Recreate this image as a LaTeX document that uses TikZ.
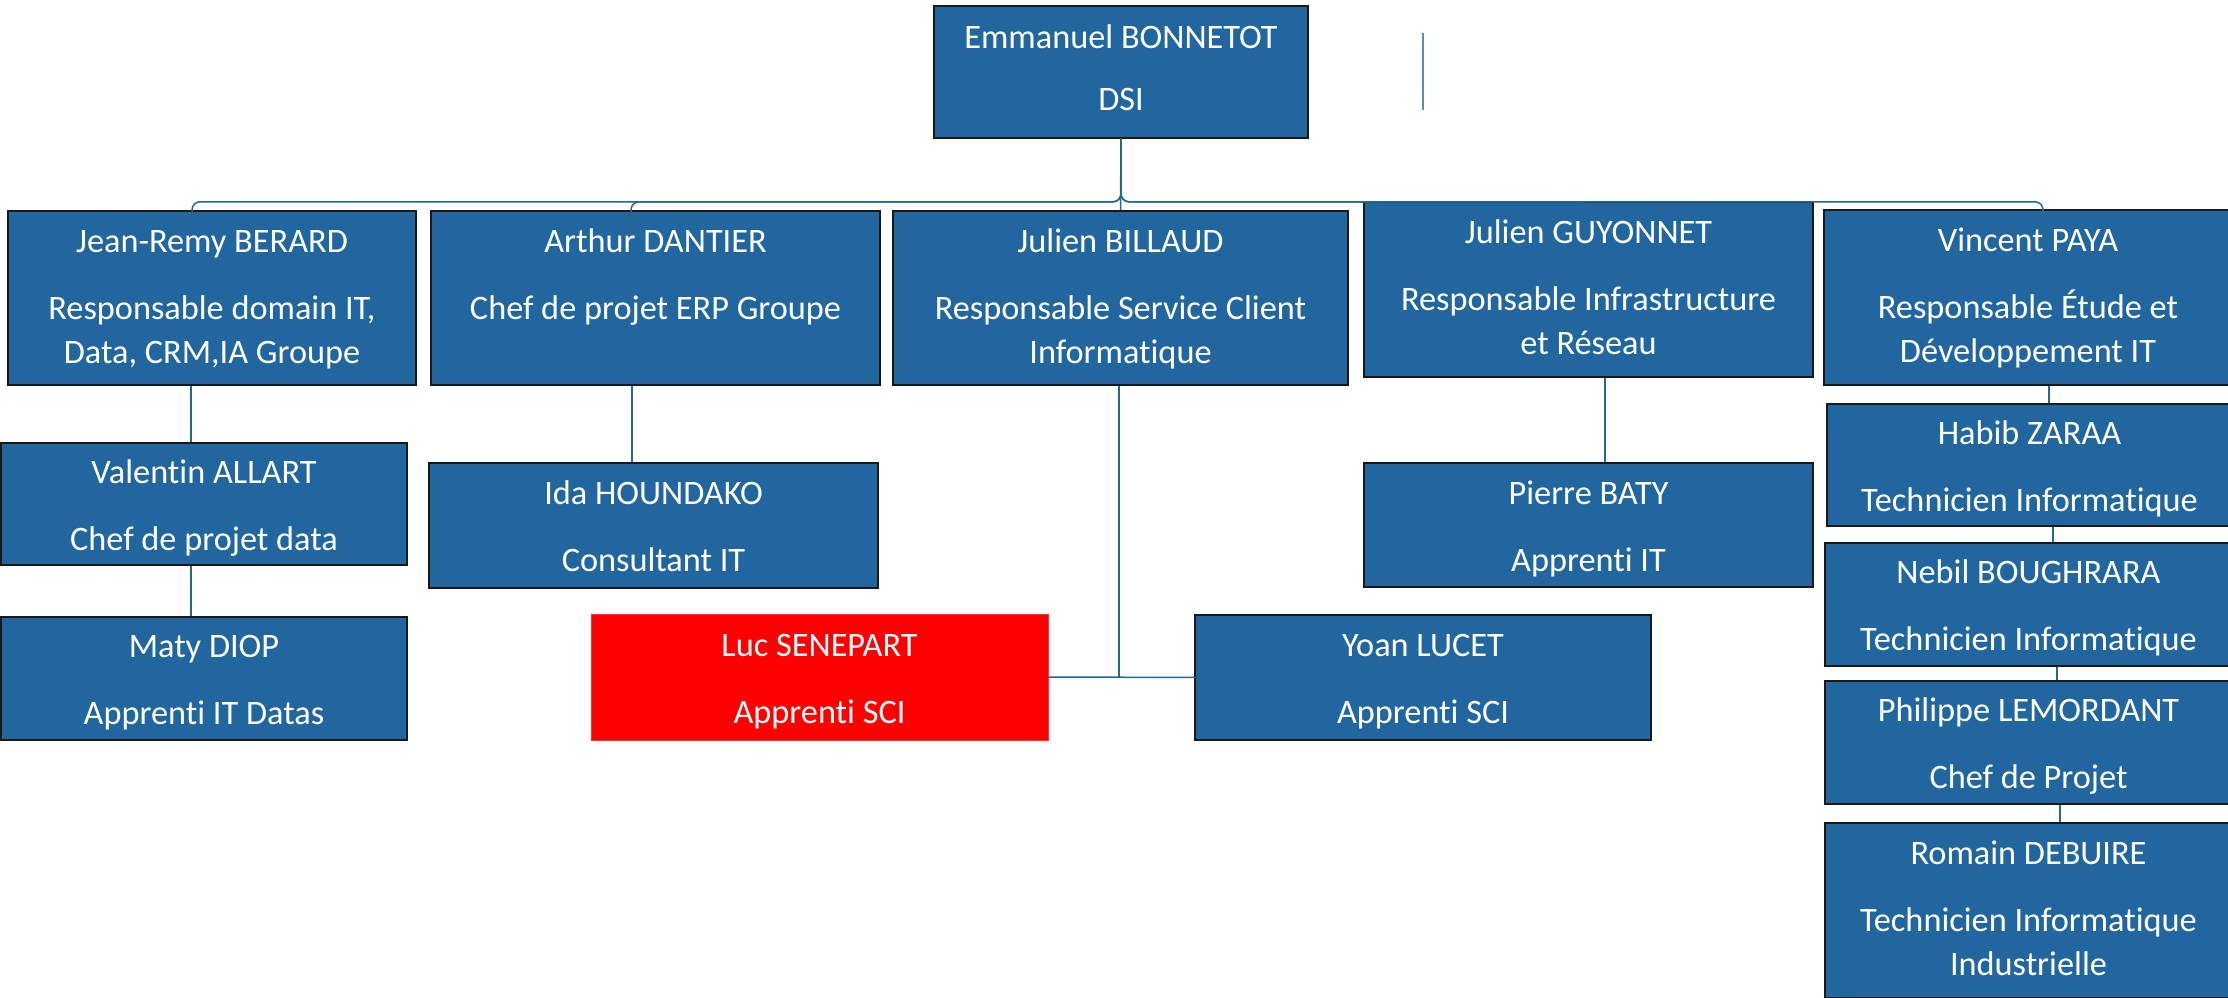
\documentclass[tikz,border=0pt]{standalone}
\usepackage{fontspec}
\setmainfont{Carlito}[Ligatures=NoCommon]
\usetikzlibrary{calc}
\definecolor{boxblue}{RGB}{33,102,159}
\definecolor{conncol}{RGB}{36,105,140}
\definecolor{edgecol}{RGB}{25,25,25}
\newcommand{\ostrut}{\rule[-10pt]{0pt}{35pt}}% top box
\newcommand{\tstrut}{\rule[-6pt]{0pt}{37pt}}% two-line boxes
\newcommand{\hstrut}{\rule[-8pt]{0pt}{35pt}}% three-line boxes
\begin{document}
\begin{tikzpicture}[x=1pt,y=-1pt,
  orgbox/.style={draw=edgecol, line width=1.6pt, fill=boxblue, text=white, align=center,
    inner sep=0pt, font=\fontsize{34.3}{44}\selectfont},
  redbox/.style={orgbox, fill=red, draw=red!80!white, line width=1pt},
  conn/.style={draw=conncol, line width=1.5pt},
  stray/.style={draw=conncol!75!white, line width=1.5pt}]
\useasboundingbox (0,0) rectangle (2228,997);
\clip (0,0) rectangle (2228,997);
% boxes
\node[orgbox, minimum width=374pt, minimum height=132pt] (dsi) at (1121,72) {\ostrut Emmanuel BONNETOT\\[18pt] DSI\ostrut};
\node[orgbox, minimum width=408pt, minimum height=174pt] (jr) at (212,298) {\hstrut Jean-Remy BERARD\\[23pt] Responsable domain IT,\\ Data, CRM,IA Groupe\hstrut};
\node[orgbox, minimum width=449pt, minimum height=174pt] (ad) at (655.5,298) {\hstrut Arthur DANTIER\\[23pt] Chef de projet ERP Groupe\\ \hstrut};
\node[orgbox, minimum width=455pt, minimum height=174pt] (jb) at (1120.5,298) {\hstrut Julien BILLAUD\\[23pt] Responsable Service Client\\ Informatique\hstrut};
\node[orgbox, minimum width=449pt, minimum height=175pt] (jg) at (1588.5,289.5) {\hstrut Julien GUYONNET\\[23pt] Responsable Infrastructure\\ et Réseau\hstrut};
\node[orgbox, minimum width=408pt, minimum height=175pt] (vp) at (2028,297.5) {\hstrut Vincent PAYA\\[23pt] Responsable Étude et\\ Développement IT\hstrut};
\node[orgbox, minimum width=406pt, minimum height=122pt] (va) at (204,504) {\tstrut Valentin ALLART\\[23pt] Chef de projet data\tstrut};
\node[orgbox, minimum width=406pt, minimum height=123pt] (ma) at (204,678.5) {\tstrut Maty DIOP\\[23pt] Apprenti IT Datas\tstrut};
\node[orgbox, minimum width=449pt, minimum height=125pt] (ih) at (653.5,525.5) {\tstrut Ida HOUNDAKO\\[23pt] Consultant IT\tstrut};
\node[redbox, minimum width=457pt, minimum height=126pt] (ls) at (819.5,677) {\tstrut Luc SENEPART\\[23pt] Apprenti SCI\tstrut};
\node[orgbox, minimum width=456pt, minimum height=125pt] (ys) at (1423,677.5) {\tstrut Yoan LUCET\\[23pt] Apprenti SCI\tstrut};
\node[orgbox, minimum width=449pt, minimum height=124pt] (pb) at (1588.5,525) {\tstrut Pierre BATY\\[23pt] Apprenti IT\tstrut};
\node[orgbox, minimum width=405pt, minimum height=122pt] (hz) at (2029.5,465) {\tstrut Habib ZARAA\\[23pt] Technicien Informatique\tstrut};
\node[orgbox, minimum width=407pt, minimum height=123pt] (nb) at (2028.5,604.5) {\tstrut Nebil BOUGHRARA\\[23pt] Technicien Informatique\tstrut};
\node[orgbox, minimum width=407pt, minimum height=123pt] (pl) at (2028.5,742.5) {\tstrut Philippe LEMORDANT\\[23pt] Chef de Projet\tstrut};
\node[orgbox, minimum width=407pt, minimum height=175pt] (rd) at (2028.5,910.5) {\hstrut Romain DEBUIRE\\[23pt] Technicien Informatique\\ Industrielle\hstrut};
% connector points
\coordinate (jrin) at (192,230);
\coordinate (adin) at (631,230);
\coordinate (jgin) at (1588,212);
\coordinate (vpin) at (2043,237);
\coordinate (cA) at (191,0);
\coordinate (cB) at (632,0);
\coordinate (cC) at (1119,0);
\coordinate (cD) at (1605,0);
\coordinate (cE1) at (2049,0);
\coordinate (cE2) at (2053,0);
\coordinate (cE3) at (2057,0);
\coordinate (cE4) at (2060,0);
\coordinate (s1) at (1423,33);
\coordinate (s2) at (1423,110);
% top level connectors
\draw[conn, rounded corners=8pt] (dsi.south) -- ++(0,63) -| (jrin);
\draw[conn, rounded corners=8pt] (dsi.south) -- ++(0,63) -| (adin);
\draw[conn] (dsi.south) -- (jb.north);
\draw[conn, rounded corners=8pt] (dsi.south) -- ++(0,63) -| (jgin);
\draw[conn, rounded corners=8pt] (dsi.south) -- ++(0,63) -| (vpin);
% sub connectors
\draw[conn] (jr.south -| cA) -- (va.north -| cA);
\draw[conn] (va.south -| cA) -- (ma.north -| cA);
\draw[conn] (ad.south -| cB) -- (ih.north -| cB);
\draw[conn] (jb.south -| cC) -- (cC |- ls.east);
\draw[conn] (ls.east) -- ([xshift=14pt]ys.west);
\draw[conn] (jg.south -| cD) -- (pb.north -| cD);
\draw[conn] (vp.south -| cE1) -- (hz.north -| cE1);
\draw[conn] (hz.south -| cE2) -- (nb.north -| cE2);
\draw[conn] (nb.south -| cE3) -- (pl.north -| cE3);
\draw[conn] (pl.south -| cE4) -- (rd.north -| cE4);
\draw[stray] (s1) -- (s2);
\end{tikzpicture}
\end{document}
